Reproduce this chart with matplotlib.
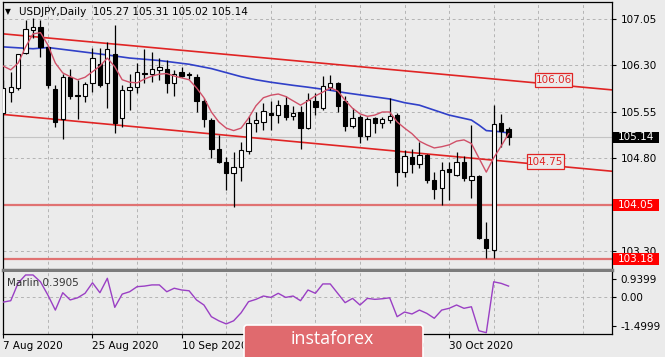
import numpy as np
import matplotlib.pyplot as plt
from matplotlib.patches import Rectangle, FancyBboxPatch
from matplotlib.transforms import IdentityTransform, blended_transform_factory

# USDJPY daily candles, 7 Aug 2020 .. 11 Nov 2020
opens = [105.53, 105.87, 105.94, 106.50, 106.88, 106.92, 106.60, 105.92, 105.44, 106.12,
         105.82, 105.80, 106.01, 106.32, 106.01, 106.48, 105.45, 105.90, 105.96, 106.18,
         106.16, 106.23, 106.25, 106.02, 106.19, 106.16, 106.12, 105.73, 105.42, 104.96,
         104.74, 104.56, 104.66, 104.92, 105.38, 105.39, 105.54, 105.50, 105.66, 105.49,
         105.55, 105.29, 105.73, 105.61, 105.96, 106.02, 105.73, 105.32, 105.47, 105.16,
         105.45, 105.37, 105.42, 105.50, 104.59, 104.83, 104.71, 104.86, 104.46, 104.32,
         104.63, 104.53, 104.75, 104.46, 104.51, 103.50, 103.32, 105.37, 105.27]
highs = [106.07, 106.20, 106.49, 107.03, 107.06, 107.03, 106.61, 105.99, 106.17, 106.25,
         106.07, 106.04, 106.58, 106.58, 106.68, 106.96, 105.99, 106.17, 106.34, 106.56,
         106.52, 106.42, 106.39, 106.23, 106.28, 106.20, 106.17, 105.77, 105.45, 105.18,
         104.83, 104.91, 105.07, 105.49, 105.55, 105.69, 105.72, 105.74, 105.81, 105.64,
         105.64, 105.85, 105.85, 106.13, 106.15, 106.04, 105.80, 105.61, 105.50, 105.47,
         105.47, 105.47, 105.77, 105.53, 104.94, 104.95, 105.07, 104.88, 104.59, 104.75,
         104.75, 104.91, 104.84, 105.34, 104.53, 103.78, 105.66, 105.52, 105.31]
lows = [105.50, 105.71, 105.90, 106.48, 106.74, 106.44, 105.94, 105.30, 105.11, 105.76,
        105.44, 105.71, 105.88, 105.96, 105.61, 105.21, 105.31, 105.58, 105.85, 106.01,
        106.04, 106.07, 105.86, 105.81, 106.12, 106.09, 105.55, 105.30, 104.80, 104.73,
        104.29, 104.02, 104.43, 104.88, 105.23, 105.26, 105.26, 105.37, 105.42, 105.42,
        104.96, 105.27, 105.50, 105.59, 105.90, 105.55, 105.25, 105.29, 105.05, 105.10,
        105.21, 105.29, 105.37, 104.35, 104.50, 104.56, 104.64, 104.41, 104.14, 104.05,
        104.13, 104.52, 104.44, 104.17, 103.50, 103.19, 103.19, 104.99, 105.02]
closes = [105.94, 105.96, 106.48, 106.89, 106.92, 106.60, 105.99, 105.39, 106.12, 105.80,
          105.80, 106.00, 106.42, 105.99, 106.56, 105.37, 105.90, 105.96, 106.19, 106.17,
          106.24, 106.27, 106.01, 106.16, 106.13, 106.15, 105.72, 105.43, 104.95, 104.75,
          104.57, 104.66, 104.94, 105.37, 105.42, 105.57, 105.50, 105.66, 105.47, 105.53,
          105.29, 105.75, 105.63, 105.97, 106.01, 105.64, 105.32, 105.46, 105.16, 105.43,
          105.37, 105.43, 105.49, 104.59, 104.84, 104.71, 104.86, 104.46, 104.30, 104.61,
          104.59, 104.75, 104.48, 104.51, 103.51, 103.35, 105.36, 105.25, 105.14]

# fast moving average (pink), one value per bar
ma_fast = [106.29, 106.23, 106.34, 106.60, 106.81, 106.83, 106.63, 106.34, 106.18, 106.12,
           106.07, 106.11, 106.20, 106.29, 106.42, 106.28, 106.07, 106.03, 106.02, 106.08,
           106.13, 106.16, 106.17, 106.13, 106.10, 106.07, 105.94, 105.78, 105.55, 105.39,
           105.29, 105.25, 105.29, 105.45, 105.65, 105.78, 105.82, 105.84, 105.80, 105.73,
           105.66, 105.73, 105.81, 105.87, 105.94, 105.89, 105.74, 105.61, 105.52, 105.48,
           105.50, 105.55, 105.55, 105.39, 105.29, 105.20, 105.08, 105.02, 104.97, 104.99,
           105.02, 105.08, 105.10, 105.04, 104.81, 104.58, 104.81, 105.00, 105.20]

# slow moving average (blue), read at some bars
ma_slow_bars = [0, 4, 6, 10, 14, 17, 21, 25, 28, 32, 34, 36, 39, 41, 44, 46, 49, 52, 54, 56,
                60, 63, 64, 65, 67, 68]
ma_slow = [106.60, 106.57, 106.59, 106.53, 106.47, 106.42, 106.38, 106.32, 106.25, 106.12,
           106.07, 106.03, 105.98, 105.95, 105.90, 105.86, 105.81, 105.76, 105.70, 105.66,
           105.50, 105.42, 105.34, 105.25, 105.23, 105.21]

# Marlin oscillator
marlin = [-0.26, -0.19, 0.72, 1.13, 1.13, 0.78, 0.10, -0.67, 0.22, -0.15,
          -0.04, 0.19, 0.73, 0.22, 0.96, -0.53, 0.15, 0.27, 0.53, 0.56,
          0.62, 0.62, 0.27, 0.45, 0.36, 0.32, -0.15, -0.41, -1.01, -1.22,
          -1.38, -1.22, -0.81, -0.24, -0.12, 0.05, -0.02, 0.19, -0.02, 0.05,
          -0.19, 0.36, 0.19, 0.67, 0.67, 0.19, -0.29, -0.07, -0.41, -0.07,
          -0.12, -0.09, -0.04, -1.01, -0.77, -0.87, -0.67, -0.84, -1.09, -0.67,
          -0.58, -0.41, -0.58, -0.50, -1.73, -1.83, 0.78, 0.70, 0.56]

# channel lines (two points each: bar, price) and levels
channel_bars = [0, 68]
channel_upper = [106.81, 106.06]
channel_lower = [105.51, 104.75]
levels = [104.05, 103.18]
last_price = 105.14

price_ticks = [107.05, 106.30, 105.55, 104.80, 104.05, 103.30]
price_tick_labels = ["107.05", "106.30", "105.55", "104.80", "", "103.30"]  # 104.05 sits under its red box
marlin_ticks = [0.9399, 0.0, -1.4999]
marlin_tick_labels = ["0.9399", "0.00", "-1.4999"]
date_bars = [0, 12, 24, 36, 48, 60]
date_labels = ["7 Aug 2020", "25 Aug 2020", "10 Sep 2020", "28 Sep 2020", "14 Oct 2020", "30 Oct 2020"]

bg = "#ebebeb"
W, H = 665, 357
fig = plt.figure(figsize=(6.65, 3.57), dpi=100, facecolor=bg)
ax = fig.add_axes([2.5/W, 1-270/H, 609.5/W, 268/H], facecolor=bg)
ax2 = fig.add_axes([2.5/W, 1-334/H, 609.5/W, 62.5/H], facecolor=bg)

x = np.arange(len(opens))
o = np.array(opens)
c = np.array(closes)

#grid
grid_kw = dict(color="#b4b4b4", lw=0.7, ls=(0, (3, 3)), zorder=0)
for b in range(0, 84, 6):
    ax.axvline(b, **grid_kw)
    ax2.axvline(b, **grid_kw)
for p in price_ticks:
    ax.axhline(p, **grid_kw)
ax2.axhline(0, **grid_kw)

ax.axhline(last_price, color="#c4c4c4", lw=0.8, zorder=1)
for lv in levels:
    ax.axhline(lv, color="#e07272", lw=1.6, zorder=1)

ax.axline((channel_bars[0], channel_upper[0]), (channel_bars[1], channel_upper[1]), color="#e02424", lw=1.2, zorder=2)
ax.axline((channel_bars[0], channel_lower[0]), (channel_bars[1], channel_lower[1]), color="#e02424", lw=1.2, zorder=2)

ax.plot(ma_slow_bars, ma_slow, color="#3040c8", lw=1.2, zorder=2)
ax.plot(x, ma_fast, color="#d05068", lw=1.0, zorder=5)

#candles
ax.vlines(x, lows, highs, color="black", lw=0.9, zorder=3)
body_colors = ["white" if cc >= oo else "black" for oo, cc in zip(o, c)]
ax.bar(x, np.maximum(np.abs(c - o), 0.012), bottom=np.minimum(o, c), width=0.58,
       color=body_colors, edgecolor="black", lw=0.8, zorder=4)

ax.set_xlim(-0.11, 81.92)
ax.set_ylim(103.0014, 107.324)
ax.set_xticks([])
ax.yaxis.tick_right()
ax.set_yticks(price_ticks)
ax.set_yticklabels(price_tick_labels)
ax.tick_params(axis="y", direction="out", length=3, pad=3, labelsize=7.5, colors="black")
for s in ["left", "right", "top"]:
    ax.spines[s].set_color("black")
    ax.spines[s].set_linewidth(0.9)
ax.spines["bottom"].set_color("#7c7c7c")
ax.spines["bottom"].set_linewidth(2.5)

# labels on the channel lines
for bar_l, bar_r, val in [(71.56, 76.54, channel_upper[1]), (70.48, 75.46, channel_lower[1])]:
    ax.add_patch(Rectangle((bar_l, val - 0.115), bar_r - bar_l, 0.23, facecolor=bg,
                           edgecolor="#e02424", lw=0.9, zorder=6))
    ax.text((bar_l + bar_r) / 2, val, f"{val:.2f}", color="#e02424", fontsize=7.5,
            ha="center", va="center", zorder=7)

# price boxes on the right axis
tr = blended_transform_factory(ax.transAxes, ax.transData)
for val, fc in [(levels[0], "#ff0000"), (levels[1], "#ff0000"), (last_price, "black")]:
    ax.add_patch(Rectangle((1.0017, val - 0.09), 0.0755, 0.18, facecolor=fc, edgecolor="none",
                           transform=tr, clip_on=False, zorder=8))
    ax.text(1.0395, val, f"{val:.2f}", color="white", fontsize=7.5, ha="center", va="center",
            transform=tr, clip_on=False, zorder=9)

#indicator panel
ax2.plot(x, marlin, color="#9a3fc4", lw=1.0, zorder=3)
ax2.set_xlim(-0.11, 81.92)
ax2.set_ylim(-1.897, 1.308)
ax2.yaxis.tick_right()
ax2.set_yticks(marlin_ticks)
ax2.set_yticklabels(marlin_tick_labels)
ax2.set_xticks(date_bars)
ax2.set_xticklabels(date_labels, ha="left")
ax2.tick_params(axis="y", direction="out", length=3, pad=3, labelsize=7.5)
ax2.tick_params(axis="x", direction="out", length=3, pad=2, labelsize=7.5)
for s in ["left", "right", "bottom"]:
    ax2.spines[s].set_color("black")
    ax2.spines[s].set_linewidth(0.9)
ax2.spines["top"].set_visible(False)
ax2.text(0.008, 0.82, "Marlin 0.3905", transform=ax2.transAxes, fontsize=7.5, color="#333333", va="center")

#title
fig.text(5/W, 1-12/H, "\u25bc", fontsize=5.5, va="center")
fig.text(19/W, 1-12/H, "USDJPY,Daily  105.27 105.31 105.02 105.14", fontsize=7.5, va="center")

#logo (covers two of the date labels, as in the source screenshot)
fig.add_artist(FancyBboxPatch((244, -4), 179, 36, boxstyle="round,pad=0,rounding_size=3",
                              transform=IdentityTransform(), facecolor="#e06a6e",
                              edgecolor="white", lw=1.2, zorder=10))
fig.text(332/W, 1-339/H, "instaforex", fontsize=12.8, family="Open Sans", color="white",
         ha="center", va="center", zorder=11)

fig.savefig("out.png", dpi=100, facecolor=bg)
